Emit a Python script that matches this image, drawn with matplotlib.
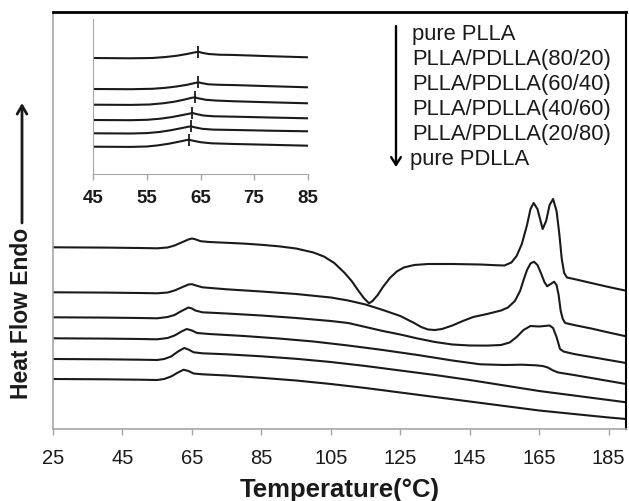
"""DSC heating curves of PLLA / PDLLA blends with an inset around Tg."""

import numpy as np
import matplotlib

matplotlib.use("Agg")
import matplotlib.pyplot as plt

plt.rcParams["font.family"] = ["Liberation Sans", "DejaVu Sans"]

LINE_COLOR = "#1a1a1a"
AXIS_GRAY = "#a6a6a6"

SAMPLE_NAMES = [
    "pure PLLA",
    "PLLA/PDLLA(80/20)",
    "PLLA/PDLLA(60/40)",
    "PLLA/PDLLA(40/60)",
    "PLLA/PDLLA(20/80)",
    "pure PDLLA",
]

X_TICKS = [25, 45, 65, 85, 105, 125, 145, 165, 185]
INSET_TICKS = [45, 55, 65, 75, 85]

# main curves: temperature (C) and heat flow (a.u., offset per sample)
PLLA_T = [25, 40, 50, 55, 58, 60, 62, 64, 65, 66, 67.5, 70, 75, 80, 85, 90, 95,
          100, 103, 106, 109, 111, 113, 114.5, 116, 117, 118.5, 120, 122, 124,
          126, 129, 133, 140, 148, 153, 155, 157, 158.5, 160, 161.5, 162.5,
          163.4, 164.5, 166, 167, 168, 169, 170, 170.8, 171.5, 172.2, 173, 175,
          180, 185, 190]
PLLA_HF = [18.17, 18.14, 18.10, 18.07, 18.15, 18.35, 18.65, 18.95, 19.05, 18.97,
           18.78, 18.70, 18.62, 18.54, 18.42, 18.27, 18.05, 17.65, 17.25, 16.60,
           15.60, 14.80, 13.80, 13.10, 12.57, 12.80, 13.40, 14.20, 15.10, 15.75,
           16.15, 16.40, 16.50, 16.50, 16.45, 16.37, 16.35, 16.65, 17.30, 18.50,
           20.40, 22.00, 22.60, 22.00, 20.00, 20.80, 22.40, 23.00, 21.80, 19.50,
           17.00, 15.60, 15.15, 15.00, 14.60, 14.20, 13.83]

B80_T = [25, 40, 50, 55, 58, 60, 62, 64, 65, 66, 68, 75, 85, 95, 105, 110, 115,
         120, 125, 129, 131, 133, 135, 137, 140, 143, 146, 150, 154, 156, 158,
         159.5, 160.5, 161.5, 162.5, 163.5, 164.5, 165.5, 166.5, 167.3, 168.3,
         169.3, 170, 170.6, 171.2, 171.8, 172.5, 175, 180, 185, 190]
B80_HF = [13.67, 13.64, 13.60, 13.57, 13.65, 13.85, 14.15, 14.45, 14.48, 14.37,
          14.17, 13.97, 13.75, 13.50, 13.15, 12.85, 12.45, 11.90, 11.30, 10.60,
          10.20, 9.95, 9.90, 10.00, 10.35, 10.80, 11.20, 11.50, 11.85, 12.15,
          12.80, 13.80, 14.90, 15.90, 16.55, 16.73, 16.40, 15.60, 14.70, 14.27,
          14.50, 14.73, 14.40, 13.40, 11.80, 11.00, 10.60, 10.40, 10.05, 9.65,
          9.27]

B60_T = [25, 40, 50, 55, 58, 60, 62, 64, 65, 66, 68, 75, 85, 95, 105, 110, 115,
         120, 125, 130, 135, 140, 145, 150, 154, 156.5, 158.5, 160.5, 162.5, 165,
         168, 169, 170, 171, 172, 175, 180, 185, 190]
B60_HF = [11.17, 11.14, 11.10, 11.07, 11.20, 11.40, 11.80, 12.15, 12.05, 11.85,
          11.67, 11.55, 11.35, 11.10, 10.80, 10.60, 10.20, 9.80, 9.45, 9.05,
          8.70, 8.45, 8.35, 8.34, 8.40, 8.65, 9.20, 9.90, 10.30, 10.25, 10.35,
          10.10, 9.20, 8.00, 7.75, 7.50, 7.20, 6.90, 6.60]

B40_T = [25, 40, 50, 55, 58, 60, 62, 63.5, 65, 66.5, 70, 80, 90, 100, 110, 120,
         130, 140, 148, 155, 160, 164, 166, 167.5, 169, 170.5, 175, 180, 185, 190]
B40_HF = [9.07, 9.04, 9.00, 8.97, 9.10, 9.35, 9.75, 10.00, 9.85, 9.60, 9.50,
          9.30, 9.05, 8.75, 8.35, 7.90, 7.40, 6.85, 6.47, 6.40, 6.43, 6.37, 6.30,
          6.15, 5.85, 5.65, 5.40, 5.10, 4.80, 4.50]

B20_T = [25, 40, 50, 55, 57, 59, 61, 62.8, 64, 65.5, 68, 75, 85, 95, 105, 115,
         125, 135, 145, 155, 165, 175, 185, 190]
B20_HF = [7.00, 6.97, 6.93, 6.90, 7.00, 7.25, 7.75, 8.10, 7.95, 7.67, 7.57, 7.47,
          7.27, 7.02, 6.70, 6.30, 5.85, 5.40, 4.90, 4.35, 3.80, 3.35, 2.90, 2.67]

PDLLA_T = [25, 40, 50, 55, 57, 59, 61, 62.6, 64, 65.5, 68, 75, 85, 95, 105, 115,
           125, 135, 145, 155, 165, 175, 185, 190]
PDLLA_HF = [5.00, 4.97, 4.93, 4.90, 5.00, 5.25, 5.65, 5.93, 5.80, 5.55, 5.47,
            5.35, 5.12, 4.85, 4.50, 4.10, 3.65, 3.20, 2.75, 2.30, 1.85, 1.50,
            1.15, 1.00]

# inset (45-85 C), heat flow in a.u.
INSET_PLLA_T = [45, 52, 56, 58.5, 60.5, 62.5, 63.8, 64.6, 65.3, 66.5, 68.5, 71.4, 78, 85]
INSET_PLLA_HF = [11.60, 11.57, 11.60, 11.70, 11.82, 12.00, 12.15, 12.22, 12.12,
                 12.00, 11.93, 11.90, 11.78, 11.67]
INSET_B80_T = [45, 52, 56, 58.5, 60.5, 62.5, 63.8, 64.6, 65.3, 66.5, 68.5, 71.4, 78, 85]
INSET_B80_HF = [8.50, 8.48, 8.52, 8.62, 8.75, 8.92, 9.08, 9.17, 9.08, 8.97, 8.92,
                8.89, 8.78, 8.67]
INSET_B60_T = [45, 52, 55.5, 58, 60, 62, 63.2, 63.9, 64.6, 66, 68, 71.4, 78, 85]
INSET_B60_HF = [6.93, 6.91, 6.95, 7.07, 7.22, 7.44, 7.60, 7.67, 7.57, 7.42, 7.34,
                7.27, 7.17, 7.07]
INSET_B40_T = [45, 52, 55, 57.5, 59.5, 61.5, 62.8, 63.5, 64.2, 65.5, 67.5, 71.4, 78, 85]
INSET_B40_HF = [5.40, 5.38, 5.42, 5.53, 5.68, 5.88, 6.02, 6.10, 6.00, 5.85, 5.77,
                5.73, 5.65, 5.57]
INSET_B20_T = [45, 52, 55, 57.3, 59.3, 61.2, 62.5, 63.2, 63.9, 65.3, 67.3, 71.4, 78, 85]
INSET_B20_HF = [4.07, 4.05, 4.09, 4.20, 4.36, 4.56, 4.70, 4.77, 4.67, 4.52, 4.44,
                4.40, 4.33, 4.27]
INSET_PDLLA_T = [45, 52, 55, 57, 59, 61, 62.2, 62.8, 63.5, 65, 67, 71.4, 78, 85]
INSET_PDLLA_HF = [2.73, 2.71, 2.75, 2.86, 3.02, 3.23, 3.37, 3.43, 3.34, 3.18,
                  3.07, 3.00, 2.92, 2.83]

MAIN_CURVES = [(PLLA_T, PLLA_HF), (B80_T, B80_HF), (B60_T, B60_HF),
               (B40_T, B40_HF), (B20_T, B20_HF), (PDLLA_T, PDLLA_HF)]
INSET_CURVES = [(INSET_PLLA_T, INSET_PLLA_HF), (INSET_B80_T, INSET_B80_HF),
                (INSET_B60_T, INSET_B60_HF), (INSET_B40_T, INSET_B40_HF),
                (INSET_B20_T, INSET_B20_HF), (INSET_PDLLA_T, INSET_PDLLA_HF)]


def style_main(ax):
    ax.set_xlim(25, 190)
    ax.set_ylim(0, 41.7)
    ax.set_xticks(X_TICKS)
    ax.set_yticks([])
    ax.tick_params(axis="x", direction="out", length=4.5, width=1.0, color=AXIS_GRAY,
                   labelsize=14.5, labelcolor=LINE_COLOR, pad=9)
    ax.spines["left"].set_color(AXIS_GRAY)
    ax.spines["left"].set_linewidth(1.2)
    ax.spines["bottom"].set_color(AXIS_GRAY)
    ax.spines["bottom"].set_linewidth(1.2)
    ax.spines["top"].set_color("black")
    ax.spines["top"].set_linewidth(2.0)
    ax.spines["right"].set_color("black")
    ax.spines["right"].set_linewidth(1.5)


def style_inset(ax):
    ax.set_xlim(45, 85)
    ax.set_ylim(0, 15.5)
    ax.set_xticks(INSET_TICKS)
    ax.set_yticks([])
    ax.tick_params(axis="x", direction="out", length=4, width=1.0, color=AXIS_GRAY,
                   labelsize=13.5, labelcolor=LINE_COLOR, pad=7)
    for label in ax.get_xticklabels():
        label.set_fontweight("bold")
    ax.spines["top"].set_visible(False)
    ax.spines["right"].set_visible(False)
    ax.spines["left"].set_color(AXIS_GRAY)
    ax.spines["bottom"].set_color(AXIS_GRAY)
    ax.patch.set_alpha(0)


def main():
    fig = plt.figure(figsize=(6.29, 5.02), dpi=100)
    ax = fig.add_axes([53 / 629, 72 / 502, 573 / 629, 417 / 502])

    for temps, heat in MAIN_CURVES:
        ax.plot(temps, heat, color=LINE_COLOR, lw=1.5, solid_joinstyle="round")
    style_main(ax)

    inset = fig.add_axes([93.3 / 629, 327 / 502, 214.4 / 629, 155 / 502])
    for temps, heat in INSET_CURVES:
        temps = np.asarray(temps)
        heat = np.asarray(heat)
        inset.plot(temps, heat, color=LINE_COLOR, lw=1.5)
        peak = np.argmax(heat)
        inset.plot(temps[peak], heat[peak], marker="|", ms=9, mew=1.3, color=LINE_COLOR)
    style_inset(inset)

    # sample order, top to bottom
    for i, name in enumerate(SAMPLE_NAMES):
        x = 412 if i < len(SAMPLE_NAMES) - 1 else 410
        fig.text(x / 629, 1 - (40 + 25 * i) / 502, name, fontsize=15.8,
                 va="baseline", ha="left", color=LINE_COLOR)
    fig.add_artist(plt.Annotation(
        "", xy=(396 / 629, 1 - 168 / 502), xytext=(396 / 629, 1 - 27 / 502),
        xycoords="figure fraction", textcoords="figure fraction",
        arrowprops=dict(arrowstyle="->,head_length=0.55,head_width=0.35",
                        lw=1.7, color="black", shrinkA=0, shrinkB=0)))

    fig.text(340 / 629, 1 - 490 / 502, "Temperature(\u00b0C)", fontsize=18.5,
             fontweight="bold", ha="center", va="center", color=LINE_COLOR)
    fig.text(22 / 629, 1 - 313 / 502, "Heat Flow Endo", fontsize=16.5,
             fontweight="bold", rotation=90, ha="center", va="center",
             color=LINE_COLOR)
    fig.add_artist(plt.Annotation(
        "", xy=(22 / 629, 1 - 104 / 502), xytext=(22 / 629, 1 - 224 / 502),
        xycoords="figure fraction", textcoords="figure fraction",
        arrowprops=dict(arrowstyle="->,head_length=0.6,head_width=0.35",
                        lw=2.0, color=LINE_COLOR, shrinkA=0, shrinkB=0)))

    fig.savefig("out.png", dpi=100)


if __name__ == "__main__":
    main()
